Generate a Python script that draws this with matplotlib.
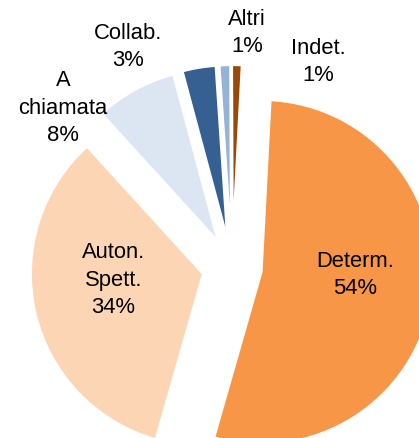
import matplotlib
matplotlib.use("Agg")
import matplotlib.pyplot as plt

# shares (%) clockwise from the top
labels = ["Determ.", "Auton.\nSpett.", "A\nchiamata", "Collab.", "Altri", "Indet."]
values = [53.6, 33.8, 7.6, 3.1, 1.0, 0.9]
colors = ["#F79646", "#FCD5B5", "#DCE6F2", "#376092", "#95B3D7", "#984807"]

# label centres (data units, pie radius = 1)
label_pos = [(0.715, -0.04), (-0.69, -0.07), (-0.983, 0.93),
             (-0.605, 1.285), (0.087, 1.366), (0.50, 1.198)]

plt.rcParams['font.family'] = ['Liberation Sans', 'DejaVu Sans']

fig = plt.figure(figsize=(4.19, 4.39), dpi=100)
ax = fig.add_axes([0, 0, 1, 1])

ax.pie(values, colors=colors, startangle=87, counterclock=False,
       explode=[0.174] * len(values), radius=1,
       wedgeprops=dict(edgecolor="white", linewidth=1.5))

for lab, v, (x, y) in zip(labels, values, label_pos):
    ax.text(x, y, f"{lab}\n{round(v)}%", ha="center", va="center",
            fontsize=15.8, linespacing=1.38, color="black")

ax.set_xlim(-1.349, 1.087)
ax.set_ylim(-0.994, 1.558)
ax.set_aspect("equal")
ax.axis("off")

fig.savefig("out.png", dpi=100)
